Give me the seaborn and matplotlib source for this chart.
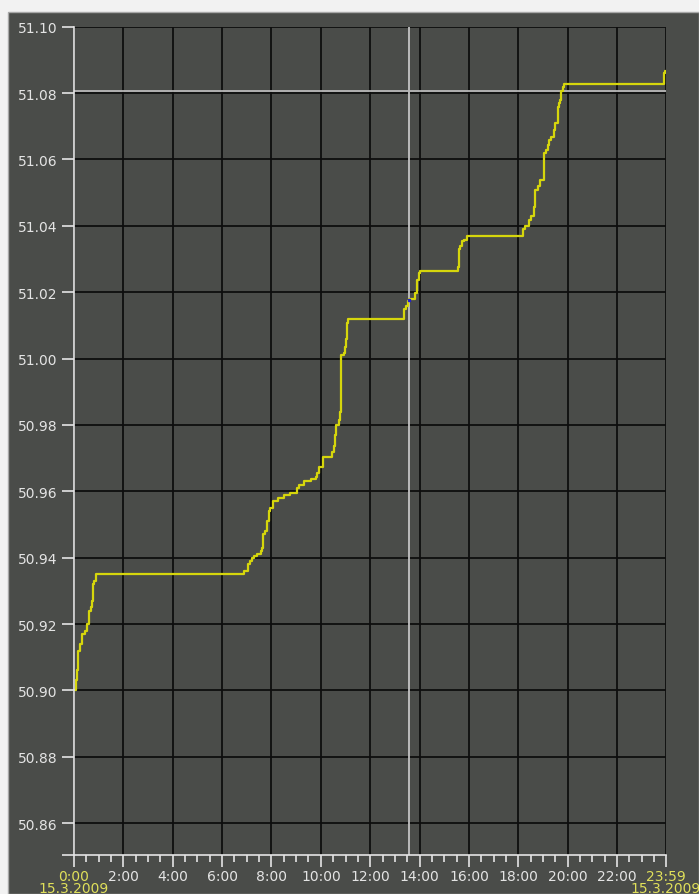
import matplotlib
matplotlib.use("Agg")
import matplotlib.pyplot as plt
from matplotlib.patches import Rectangle
import numpy as np
import pandas as pd
import seaborn as sns

# step change points: hours since midnight and the value from then on
hours = [0.00, 0.07, 0.13, 0.17, 0.24, 0.32, 0.45, 0.53, 0.62, 0.69, 0.74, 0.78, 0.82, 0.88,
         6.89, 7.03, 7.11, 7.20, 7.30, 7.41, 7.57, 7.63, 7.67, 7.74, 7.81, 7.88, 7.95,
         8.08, 8.28, 8.49, 8.76, 9.03, 9.12, 9.32, 9.60, 9.81, 9.86, 9.94, 10.07,
         10.45, 10.52, 10.59, 10.62, 10.72, 10.78, 10.82, 10.92, 10.96, 11.00, 11.04, 11.10,
         13.35, 13.46, 13.55, 13.59, 13.80, 13.89, 13.96, 14.00,
         15.56, 15.61, 15.65, 15.72, 15.78, 15.92,
         18.21, 18.28, 18.42, 18.45, 18.51, 18.62, 18.65, 18.69, 18.78, 18.89, 19.03,
         19.05, 19.12, 19.19, 19.26, 19.33, 19.43, 19.50, 19.59, 19.66, 19.70, 19.74, 19.80, 19.87,
         23.92, 23.96, 23.983]
values = [50.9000, 50.9030, 50.9060, 50.9120, 50.9140, 50.9170, 50.9180, 50.9200, 50.9240,
          50.9250, 50.9270, 50.9320, 50.9330, 50.9350,
          50.9360, 50.9380, 50.9390, 50.9400, 50.9405, 50.9410, 50.9420, 50.9430, 50.9470,
          50.9480, 50.9510, 50.9540, 50.9550,
          50.9570, 50.9580, 50.9590, 50.9596, 50.9610, 50.9620, 50.9630, 50.9637, 50.9644,
          50.9654, 50.9674, 50.9704,
          50.9719, 50.9735, 50.9770, 50.9800, 50.9815, 50.9840, 51.0011, 51.0016, 51.0036,
          51.0058, 51.0107, 51.0120,
          51.0149, 51.0159, 51.0172, 51.0179, 51.0199, 51.0237, 51.0257, 51.0265,
          51.0277, 51.0330, 51.0340, 51.0353, 51.0358, 51.0370,
          51.0390, 51.0398, 51.0400, 51.0418, 51.0431, 51.0438, 51.0458, 51.0509, 51.0519,
          51.0539, 51.0549,
          51.0619, 51.0629, 51.0644, 51.0659, 51.0669, 51.0689, 51.0711, 51.0758, 51.0770,
          51.0780, 51.0805, 51.0818, 51.0828,
          51.0860, 51.0868, 51.0868]

# cursor position
cursor_hour = 13.58
cursor_value = 51.0805

y_ticks = [50.86, 50.88, 50.90, 50.92, 50.94, 50.96, 50.98, 51.00, 51.02, 51.04, 51.06, 51.08, 51.10]
x_ticks = [0, 2, 4, 6, 8, 10, 12, 14, 16, 18, 20, 22, 23.983]
x_labels = ["0:00\n15.3.2009", "2:00", "4:00", "6:00", "8:00", "10:00", "12:00", "14:00",
            "16:00", "18:00", "20:00", "22:00", "23:59\n15.3.2009"]

bg = "#4a4c49"
fg = "#e4e4e4"
yellow = "#d6d60c"
label_yellow = "#e0e05a"

sns.set_style("dark")
plt.rcParams["font.family"] = ["DejaVu Sans"]

df = pd.DataFrame({"hour": hours, "value": values})

fig = plt.figure(figsize=(6.99, 8.95), dpi=100, facecolor="#f2f2f2")
panel = Rectangle((8 / 699, 0), 691 / 699, (895 - 12.5) / 895,
                  transform=fig.transFigure, facecolor=bg,
                  edgecolor="#a8a8a8", linewidth=1, zorder=-5)
fig.patches.append(panel)

ax = fig.add_axes([74 / 699, (895 - 856) / 895, (666 - 74) / 699, (856 - 27.7) / 895])
ax.set_zorder(1)
ax.set_facecolor(bg)

sns.lineplot(data=df, x="hour", y="value", estimator=None, drawstyle="steps-post",
             color=yellow, linewidth=1.6, ax=ax, zorder=4)

# cursor cross-hair
ax.axvline(cursor_hour, color="#c4c4c4", linewidth=1.3, zorder=3)
ax.axhline(cursor_value, color="#b8b8b8", linewidth=1.3, zorder=3)
ax.plot([cursor_hour], [51.0177], marker="s", markersize=2, color="#2020d0", zorder=5)

ax.set_xlim(0, 23.983)
ax.set_ylim(50.8504, 51.10)

ax.set_yticks(y_ticks)
ax.set_yticklabels([f"{v:.2f}" for v in y_ticks])
ax.set_yticks([50.8504], minor=True)
ax.set_xticks(x_ticks)
ax.set_xticklabels(x_labels, linespacing=0.85)
ax.set_xticks(np.arange(0.5, 23.9, 0.5), minor=True)

ax.grid(True, which="major", color="#0e0e0e", linewidth=1.3)
ax.grid(False, which="minor")
ax.set_axisbelow(True)

for side in ["top", "right"]:
    ax.spines[side].set_visible(False)
for side in ["left", "bottom"]:
    ax.spines[side].set_color(fg)
    ax.spines[side].set_linewidth(1.2)
    ax.spines[side].set_zorder(6)

ax.tick_params(axis="both", which="both", bottom=True, left=True, top=False, right=False,
               direction="out")
ax.tick_params(axis="y", which="major", length=8.6, width=1.2, color=fg,
               labelcolor=fg, labelsize=10, pad=3)
ax.tick_params(axis="y", which="minor", length=8.6, width=1.2, color=fg)
ax.tick_params(axis="x", which="major", length=8.6, width=1.2, color=fg,
               labelcolor=fg, labelsize=10, pad=1.5)
ax.tick_params(axis="x", which="minor", length=5.2, width=1.2, color=fg)

# first and last time labels are yellow
for t in [ax.xaxis.get_major_ticks()[0], ax.xaxis.get_major_ticks()[-1]]:
    t.tick1line.set_color(label_yellow)
    t.label1.set_color(label_yellow)

ax.set_xlabel("")
ax.set_ylabel("")

plt.savefig("out.png", dpi=100, facecolor=fig.get_facecolor())
